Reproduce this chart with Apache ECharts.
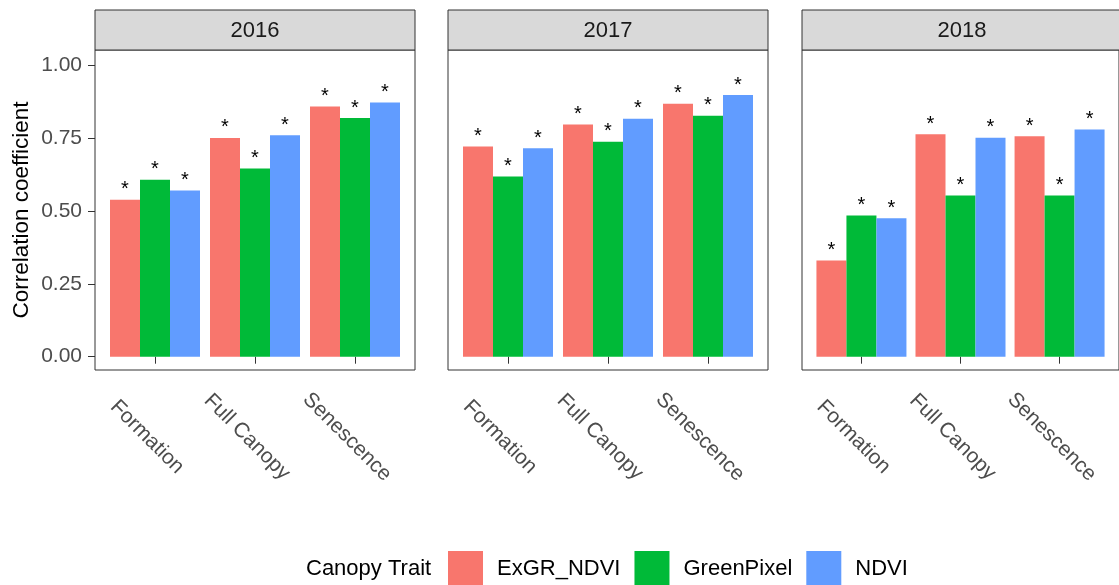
<!DOCTYPE html>
<html>
<head>
<meta charset="utf-8">
<script src="https://cdn.jsdelivr.net/npm/echarts@6/dist/echarts.min.js"></script>
<style>
html,body{margin:0;padding:0;background:#fff;}
#chart{width:1119px;height:585px;}
</style>
</head>
<body>
<div id="chart"></div>
<script>
// ---- data ----
const years = ['2016', '2017', '2018'];
const stages = ['Formation', 'Full Canopy', 'Senescence'];
const traits = ['ExGR_NDVI', 'GreenPixel', 'NDVI'];
const yTicks = [0, 0.25, 0.5, 0.75, 1.0];

const exgr2016 = [0.538, 0.750, 0.858];
const green2016 = [0.607, 0.645, 0.818];
const ndvi2016 = [0.570, 0.759, 0.871];

const exgr2017 = [0.721, 0.796, 0.867];
const green2017 = [0.618, 0.737, 0.826];
const ndvi2017 = [0.715, 0.816, 0.897];

const exgr2018 = [0.330, 0.763, 0.756];
const green2018 = [0.484, 0.553, 0.553];
const ndvi2018 = [0.475, 0.751, 0.779];

const sig = '*';

// ---- layout / style ----
const colors = ['#F8766D', '#00BA38', '#619CFF'];
const values = [
  [exgr2016, green2016, ndvi2016],
  [exgr2017, green2017, ndvi2017],
  [exgr2018, green2018, ndvi2018]
];
const FONT = 'Liberation Sans, Arial, Helvetica, sans-serif';
const panelLeft = [95, 448, 802];
const panelW = 320, panelTop = 50, panelH = 320;
const stripTop = 10, stripH = 40;

const grids = [], xAxes = [], yAxes = [], series = [], graphics = [];
years.forEach((yr, i) => {
  grids.push({
    left: panelLeft[i], top: panelTop, width: panelW, height: panelH,
    show: true, borderColor: '#333333', borderWidth: 1, backgroundColor: '#ffffff', z: 0
  });
  xAxes.push({
    gridIndex: i, type: 'value', min: 0.4, max: 3.6,
    axisLine: { show: false }, splitLine: { show: false },
    axisTick: { show: true, customValues: [1, 2, 3], length: 7, lineStyle: { color: '#333333', width: 1 } },
    axisLabel: {
      customValues: [0.92, 1.92, 2.92],
      formatter: v => stages[Math.round(v) - 1],
      rotate: -45, align: 'center', verticalAlign: 'middle', margin: 67,
      fontSize: 21, color: '#4d4d4d', fontFamily: FONT
    }
  });
  yAxes.push({
    gridIndex: i, type: 'value', min: -0.0456, max: 1.0514,
    axisLine: { show: false }, splitLine: { show: false },
    axisTick: { show: i === 0, customValues: yTicks, length: 7, lineStyle: { color: '#333333', width: 1 } },
    axisLabel: {
      show: i === 0, customValues: yTicks, formatter: v => v.toFixed(2),
      fontSize: 21, color: '#4d4d4d', fontFamily: FONT, margin: 13
    },
    name: i === 0 ? 'Correlation coefficient' : '',
    nameLocation: 'middle', nameGap: 62, nameRotate: 90,
    nameTextStyle: { fontSize: 22.5, color: '#000000', fontFamily: FONT }
  });
  traits.forEach((t, k) => {
    series.push({
      name: t, type: 'bar', xAxisIndex: i, yAxisIndex: i,
      barWidth: 30, barGap: '0%',
      itemStyle: { color: colors[k] },
      data: values[i][k].map((v, j) => [j + 1, v]),
      label: {
        show: true, position: 'top', distance: 0, formatter: sig,
        fontSize: 20, color: '#000000', fontFamily: FONT
      },
      animation: false
    });
  });
  graphics.push({
    type: 'group',
    children: [
      { type: 'rect', shape: { x: panelLeft[i], y: stripTop, width: panelW, height: stripH },
        style: { fill: '#d9d9d9', stroke: '#333333', lineWidth: 1 } },
      { type: 'text', style: { text: yr, x: panelLeft[i] + panelW / 2, y: stripTop + stripH / 2 + 1,
        align: 'center', verticalAlign: 'middle', font: '22px ' + FONT, fill: '#1a1a1a' } }
    ]
  });
});

const chart = echarts.init(document.getElementById('chart'), null, { renderer: 'canvas' });
chart.setOption({
  animation: false,
  backgroundColor: '#ffffff',
  title: {
    text: 'Canopy Trait', left: 306, top: 558, padding: 0,
    textStyle: { fontSize: 22, fontWeight: 'normal', color: '#000000', fontFamily: FONT }
  },
  legend: {
    data: traits, left: 448, top: 551, padding: 0,
    itemWidth: 35, itemHeight: 35, itemGap: 14, icon: 'rect', selectedMode: false,
    textStyle: { fontSize: 22, color: '#000000', fontFamily: FONT, padding: [0, 0, 0, 9] }
  },
  grid: grids, xAxis: xAxes, yAxis: yAxes, series: series,
  graphic: graphics
});
</script>
</body>
</html>
